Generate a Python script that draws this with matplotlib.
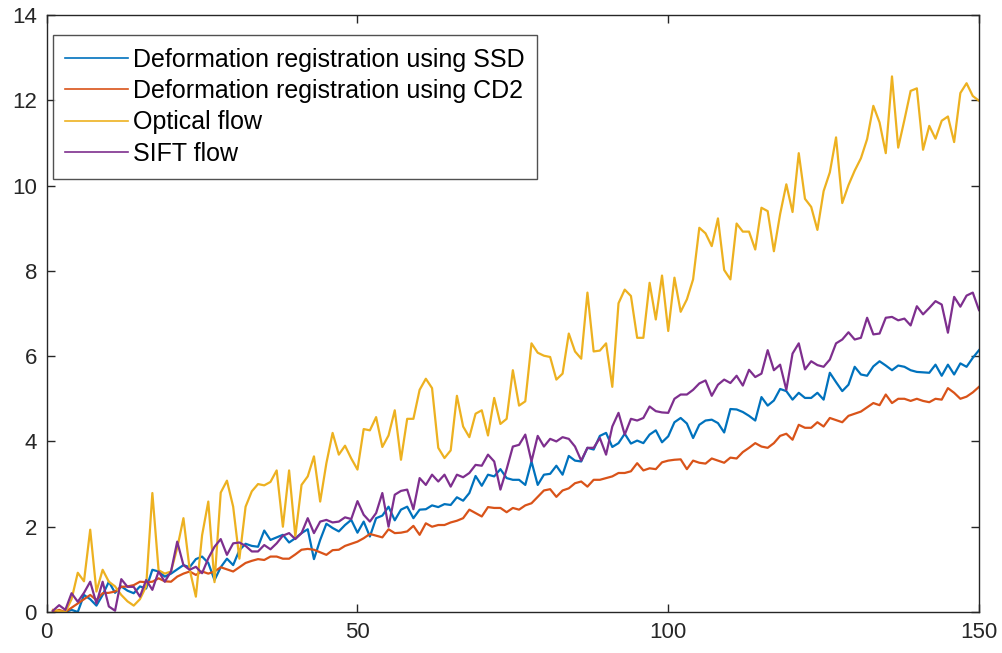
import numpy as np
import matplotlib
matplotlib.use("Agg")
import matplotlib.pyplot as plt

x = np.arange(1, 151)

ssd = [0.0, 0.0, 0.0, 0.05, 0.0, 0.4, 0.3, 0.15, 0.4, 0.71,
       0.45, 0.6, 0.5, 0.44, 0.6, 0.55, 0.99, 0.95, 0.83, 0.9,
       1.0, 1.1, 1.05, 1.24, 1.3, 1.15, 0.75, 1.05, 1.25, 1.1,
       1.45, 1.6, 1.55, 1.53, 1.91, 1.69, 1.75, 1.81, 1.63, 1.73,
       1.85, 1.94, 1.24, 1.69, 2.07, 1.97, 1.89, 2.04, 2.16, 1.86,
       2.12, 1.77, 2.20, 2.26, 2.47, 2.15, 2.40, 2.47, 2.20, 2.40,
       2.41, 2.50, 2.46, 2.53, 2.51, 2.69, 2.61, 2.79, 3.19, 2.96,
       3.22, 3.18, 3.35, 3.14, 3.10, 3.10, 2.98, 3.53, 2.98, 3.22,
       3.24, 3.43, 3.22, 3.66, 3.55, 3.53, 3.85, 3.81, 4.13, 4.20,
       3.87, 3.96, 4.18, 3.95, 4.02, 3.96, 4.16, 4.26, 3.98, 4.12,
       4.45, 4.55, 4.42, 4.08, 4.39, 4.49, 4.51, 4.43, 4.21, 4.76,
       4.75, 4.69, 4.60, 4.49, 5.04, 4.84, 4.96, 5.23, 5.18, 4.98,
       5.14, 5.02, 5.02, 5.14, 4.98, 5.61, 5.39, 5.18, 5.33, 5.75,
       5.57, 5.54, 5.76, 5.88, 5.78, 5.67, 5.78, 5.75, 5.67, 5.63,
       5.62, 5.61, 5.80, 5.54, 5.80, 5.57, 5.83, 5.75, 5.96, 6.14]

cd2 = [0.0, 0.05, 0.0, 0.1, 0.2, 0.3, 0.4, 0.28, 0.44, 0.45,
       0.48, 0.59, 0.6, 0.63, 0.71, 0.7, 0.71, 0.79, 0.72, 0.71,
       0.83, 0.9, 0.95, 0.87, 0.95, 0.9, 0.95, 1.05, 1.0, 0.95,
       1.05, 1.15, 1.2, 1.24, 1.22, 1.3, 1.3, 1.25, 1.25, 1.35,
       1.46, 1.48, 1.46, 1.40, 1.34, 1.45, 1.46, 1.55, 1.6, 1.65,
       1.73, 1.83, 1.79, 1.75, 1.94, 1.85, 1.86, 1.89, 2.02, 1.81,
       2.08, 2.0, 2.04, 2.04, 2.10, 2.14, 2.20, 2.40, 2.32, 2.24,
       2.46, 2.44, 2.44, 2.34, 2.44, 2.4, 2.5, 2.55, 2.7, 2.85,
       2.88, 2.7, 2.85, 2.9, 3.02, 3.06, 2.94, 3.10, 3.10, 3.14,
       3.18, 3.26, 3.26, 3.30, 3.49, 3.32, 3.37, 3.35, 3.51, 3.55,
       3.57, 3.58, 3.35, 3.55, 3.5, 3.48, 3.6, 3.55, 3.5, 3.62,
       3.6, 3.75, 3.85, 3.96, 3.88, 3.85, 3.96, 4.13, 4.18, 4.04,
       4.39, 4.32, 4.32, 4.45, 4.35, 4.55, 4.5, 4.45, 4.6, 4.65,
       4.7, 4.8, 4.9, 4.85, 5.1, 4.9, 5.0, 5.0, 4.95, 5.0,
       4.95, 4.92, 5.0, 4.98, 5.25, 5.14, 5.0, 5.05, 5.15, 5.28]

optical = [0.05, 0.02, 0.0, 0.3, 0.92, 0.72, 1.93, 0.48, 0.99, 0.71,
           0.6, 0.4, 0.25, 0.15, 0.3, 0.6, 2.79, 0.98, 0.9, 0.95,
           1.5, 2.2, 1.0, 0.36, 1.8, 2.59, 0.7, 2.8, 3.08, 2.47,
           1.25, 2.47, 2.83, 3.0, 2.97, 3.05, 3.32, 2.0, 3.32, 1.77,
           2.98, 3.18, 3.65, 2.59, 3.49, 4.2, 3.69, 3.9, 3.6, 3.34,
           4.29, 4.26, 4.57, 3.87, 4.14, 4.73, 3.57, 4.53, 4.53, 5.21,
           5.47, 5.25, 3.85, 3.61, 3.79, 5.07, 4.35, 4.10, 4.65, 4.73,
           4.14, 5.02, 4.41, 4.53, 5.67, 4.84, 4.94, 6.30, 6.08, 6.01,
           5.98, 5.45, 5.59, 6.53, 6.11, 5.94, 7.49, 6.11, 6.13, 6.30,
           5.28, 7.24, 7.56, 7.41, 6.43, 6.43, 7.72, 6.86, 7.89, 6.59,
           7.84, 7.04, 7.33, 7.80, 9.01, 8.88, 8.58, 9.23, 8.02, 7.80,
           9.11, 8.92, 8.92, 8.50, 9.48, 9.40, 8.46, 9.33, 10.03, 9.38,
           10.76, 9.69, 9.50, 8.96, 9.87, 10.31, 11.13, 9.59, 10.01, 10.35,
           10.64, 11.09, 11.87, 11.48, 10.76, 12.56, 10.89, 11.54, 12.22, 12.28,
           10.84, 11.40, 11.10, 11.52, 11.62, 11.02, 12.17, 12.40, 12.10, 11.99]

sift = [0.03, 0.16, 0.05, 0.44, 0.24, 0.45, 0.71, 0.20, 0.71, 0.13,
        0.03, 0.77, 0.59, 0.59, 0.36, 0.75, 0.52, 0.95, 0.71, 0.95,
        1.65, 1.10, 0.99, 1.06, 0.91, 1.26, 1.53, 1.71, 1.34, 1.61,
        1.63, 1.55, 1.42, 1.42, 1.57, 1.47, 1.61, 1.79, 1.85, 1.71,
        1.85, 2.20, 1.85, 2.12, 2.16, 2.10, 2.12, 2.22, 2.18, 2.6,
        2.28, 2.12, 2.32, 2.79, 2.0, 2.75, 2.84, 2.87, 2.41, 3.14,
        2.98, 3.22, 3.06, 3.22, 2.94, 3.22, 3.16, 3.26, 3.45, 3.43,
        3.69, 3.53, 2.87, 3.35, 3.88, 3.92, 4.16, 3.53, 4.13, 3.88,
        4.06, 4.0, 4.10, 4.06, 3.88, 3.55, 3.85, 3.85, 4.08, 3.69,
        4.35, 4.67, 4.16, 4.53, 4.49, 4.55, 4.82, 4.71, 4.68, 4.67,
        5.0, 5.10, 5.10, 5.21, 5.36, 5.43, 5.07, 5.33, 5.45, 5.37,
        5.54, 5.31, 5.68, 5.51, 5.59, 6.14, 5.67, 5.80, 5.21, 6.06,
        6.30, 5.69, 5.88, 5.79, 5.75, 5.92, 6.30, 6.39, 6.56, 6.39,
        6.43, 6.90, 6.51, 6.53, 6.90, 6.92, 6.84, 6.88, 6.72, 7.17,
        6.98, 7.13, 7.29, 7.21, 6.55, 7.39, 7.16, 7.42, 7.49, 7.08]

labels = ["Deformation registration using SSD",
          "Deformation registration using CD2",
          "Optical flow",
          "SIFT flow"]
colors = ["#0072BD", "#D95319", "#EDB120", "#7E2F8E"]

plt.rcParams['font.family'] = ['Liberation Sans', 'DejaVu Sans']

W, H = 1003, 653
L, R, T, B = 46.7, 979.0, 15.0, 612.0
fig = plt.figure(figsize=(W / 100, H / 100), dpi=100)
ax = fig.add_axes([L / W, (H - B) / H, (R - L) / W, (B - T) / H])

for series, lab, col in zip([ssd, cd2, optical, sift], labels, colors):
    ax.plot(x, series, color=col, lw=1.6, label=lab)

ax.set_xlim(0, 150)
ax.set_ylim(0, 14)
ax.set_xticks([0, 50, 100, 150])
ax.set_yticks(np.arange(0, 15, 2))
axcol = "#262626"
for s in ax.spines.values():
    s.set_color(axcol)
    s.set_linewidth(1.0)
ax.tick_params(direction='in', top=True, right=True, length=6, width=1.0,
               color=axcol, labelcolor=axcol, labelsize=16, pad=7)

leg_x = (52.5 - L) / (R - L)
leg_y = (B - 35.0) / (B - T)
leg = ax.legend(loc='upper left', bbox_to_anchor=(leg_x, leg_y),
                fontsize=18, frameon=True, fancybox=False,
                edgecolor=axcol, handlelength=2.5, handletextpad=0.22,
                borderpad=0.5, labelspacing=0.3, borderaxespad=0.0)
leg.get_frame().set_linewidth(1.0)
for line in leg.get_lines():
    line.set_linewidth(1.2)

fig.savefig("out.png", dpi=100)
